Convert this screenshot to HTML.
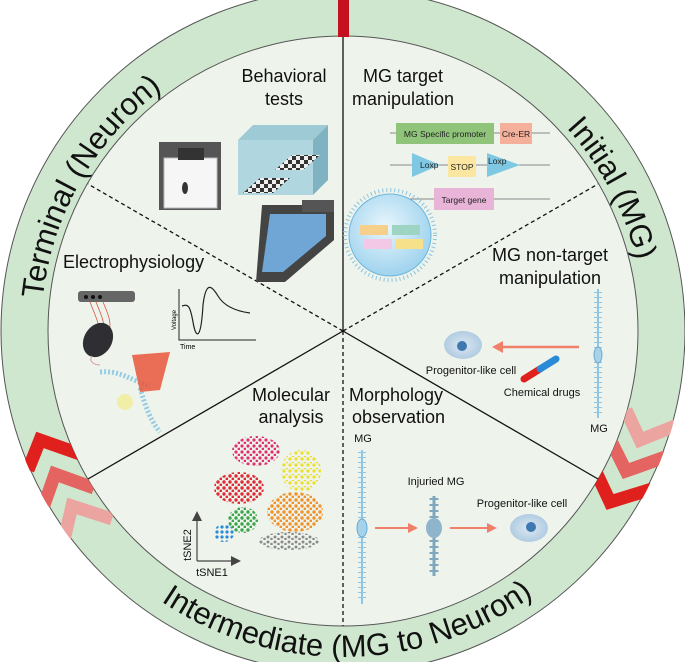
<!DOCTYPE html>
<html><head><meta charset="utf-8"><style>
html,body{margin:0;padding:0;background:#fff;}
svg{display:block;font-family:"Liberation Sans",sans-serif;}
</style></head><body>
<svg width="685" height="662" viewBox="0 0 685 662" xmlns="http://www.w3.org/2000/svg">
<defs>
<clipPath id="ring"><path fill-rule="evenodd" d="M0 331 A343 343 0 1 0 686 331 A343 343 0 1 0 0 331Z M48 331 A295 295 0 1 1 638 331 A295 295 0 1 1 48 331Z"/></clipPath>
<path id="topArc" d="M41 331 A302 302 0 0 1 645 331"/>
<path id="botArc" d="M17 331 A326 326 0 0 0 669 331"/>
<pattern id="pk" width="6" height="6" patternUnits="userSpaceOnUse"><circle cx="2" cy="2" r="1.6" fill="#e0306f"/><circle cx="5" cy="5" r="1.4" fill="#e0306f"/></pattern>
<pattern id="yl" width="6" height="6" patternUnits="userSpaceOnUse"><circle cx="2" cy="3" r="1.6" fill="#ecdf2a"/><circle cx="5" cy="0" r="1.4" fill="#ecdf2a"/></pattern>
<pattern id="rd" width="6" height="6" patternUnits="userSpaceOnUse"><circle cx="2" cy="2" r="1.7" fill="#e02a35"/><circle cx="5" cy="5" r="1.5" fill="#e02a35"/></pattern>
<pattern id="or" width="6" height="6" patternUnits="userSpaceOnUse"><circle cx="2" cy="2" r="1.7" fill="#f0922a"/><circle cx="5" cy="5" r="1.5" fill="#f0922a"/></pattern>
<pattern id="gr" width="6" height="6" patternUnits="userSpaceOnUse"><circle cx="2" cy="2" r="1.7" fill="#3aa54a"/><circle cx="5" cy="5" r="1.5" fill="#3aa54a"/></pattern>
<pattern id="bl" width="5" height="5" patternUnits="userSpaceOnUse"><circle cx="2" cy="2" r="1.6" fill="#2a8ad8"/></pattern>
<pattern id="gy" width="7" height="5" patternUnits="userSpaceOnUse"><circle cx="2" cy="2" r="1.5" fill="#8a8a8a"/><circle cx="5.5" cy="4" r="1.3" fill="#8a8a8a"/></pattern>
<pattern id="chk" width="8" height="8" patternUnits="userSpaceOnUse"><rect width="4" height="4" fill="#333"/><rect x="4" y="4" width="4" height="4" fill="#333"/><rect x="4" width="4" height="4" fill="#eee"/><rect y="4" width="4" height="4" fill="#eee"/></pattern>
<radialGradient id="cellg" cx="0.45" cy="0.4" r="0.6"><stop offset="0" stop-color="#e8f6fc"/><stop offset="1" stop-color="#9fd3ee"/></radialGradient>
<radialGradient id="pg" cx="0.5" cy="0.5" r="0.6"><stop offset="0" stop-color="#dbe8f3"/><stop offset="1" stop-color="#a9c6de"/></radialGradient>
</defs>
<circle cx="343" cy="331" r="342" fill="#d0e7cf" stroke="#555" stroke-width="1"/>
<circle cx="343" cy="331" r="295" fill="#eef4ec" stroke="#555" stroke-width="1"/>
<rect x="338" y="0" width="11" height="37" fill="#c5111f"/>
<g clip-path="url(#ring)" fill="none" stroke-width="13" stroke-linejoin="miter">
<polyline points="28,470 40,440 80,454" stroke="#e0201c"/>
<polyline points="44,505 55,474 94,488" stroke="#e36460"/>
<polyline points="64,540 72,506 112,519" stroke="#eba4a0"/>
<polyline points="626,410 640,440 680,424" stroke="#eba4a0"/>
<polyline points="611,441 626,471 668,456" stroke="#e36460"/>
<polyline points="596,472 610,502 652,489" stroke="#e0201c"/>
</g>
<g font-size="31" fill="#111">
<text text-anchor="middle"><textPath href="#topArc" startOffset="16.5%">Terminal (Neuron)</textPath></text>
<text text-anchor="middle"><textPath href="#topArc" startOffset="84.5%">Initial (MG)</textPath></text>
<text text-anchor="middle"><textPath href="#botArc" startOffset="50.5%">Intermediate (MG to Neuron)</textPath></text>
</g>
<g stroke="#111" stroke-width="1.3">
<line x1="343" y1="331" x2="343" y2="37"/>
<line x1="343" y1="331" x2="88" y2="479"/>
<line x1="343" y1="331" x2="598" y2="479"/>
<g stroke-dasharray="4,3">
<line x1="343" y1="331" x2="88" y2="184"/>
<line x1="343" y1="331" x2="598" y2="184"/>
<line x1="343" y1="331" x2="343" y2="626"/>
</g>
</g>
<g font-size="18" fill="#111" text-anchor="middle">
<text x="284" y="82">Behavioral</text><text x="284" y="105">tests</text>
<text x="403" y="82">MG target</text><text x="403" y="105">manipulation</text>
<text x="550" y="261">MG non-target</text><text x="550" y="284">manipulation</text>
<text x="291" y="401">Molecular</text><text x="291" y="423">analysis</text>
<text x="63" y="268" text-anchor="start">Electrophysiology</text>
<text x="349" y="401" text-anchor="start">Morphology</text>
<text x="352" y="423" text-anchor="start">observation</text>
</g>
<rect x="159" y="142" width="62" height="68" fill="#555"/>
<rect x="164" y="158" width="53" height="50" fill="#f6f6f6" stroke="#bbb"/>
<rect x="178" y="148" width="26" height="12" fill="#333"/>
<ellipse cx="185" cy="188" rx="3" ry="6" fill="#333"/>
<polygon points="238,140 253,125 328,125 313,140" fill="#9ecad6"/>
<polygon points="313,140 328,125 328,180 313,195" fill="#7fb3c2"/>
<rect x="238" y="140" width="75" height="55" fill="#a8d3df" opacity="0.9"/>
<polygon points="243,193 260,178 290,178 273,193" fill="url(#chk)"/>
<polygon points="275,170 292,155 320,155 303,170" fill="url(#chk)"/>
<polygon points="262,205 334,205 334,240 285,282 256,282" fill="#444"/>
<polygon points="270,214 326,214 326,236 283,272 262,272" fill="#6fa6d6"/>
<rect x="302" y="200" width="32" height="12" fill="#555"/>
<rect x="78" y="291" width="57" height="11" rx="3" fill="#666"/>
<circle cx="86" cy="297" r="2" fill="#111"/><circle cx="93" cy="297" r="2" fill="#111"/><circle cx="100" cy="297" r="2" fill="#111"/>
<path d="M90 302 C95 315 100 325 100 335 M96 302 C100 312 105 322 104 332 M103 302 C110 318 112 325 108 335" stroke="#d54" fill="none" stroke-width="0.8"/>
<ellipse cx="98" cy="340" rx="14" ry="18" fill="#2e2e33" transform="rotate(30 98 340)"/>
<path d="M92 356 C88 362 95 365 100 365" stroke="#d9a" fill="none"/>
<path d="M179 289 V340 H256" stroke="#222" fill="none" stroke-width="1"/>
<path d="M182 306 C188 304 190 305 193 322 C196 340 201 340 203 305 C206 280 212 286 218 296 C224 306 235 311 250 313" stroke="#222" fill="none" stroke-width="1.2"/>
<text x="176" y="330" font-size="6" transform="rotate(-90 176 330)">Voltage</text>
<text x="180" y="349" font-size="7">Time</text>
<path d="M100 372 C120 370 130 380 150 386" stroke="#5ab0e0" stroke-dasharray="2,2" fill="none" stroke-width="5" opacity="0.6"/>
<path d="M140 388 C145 405 150 420 160 432" stroke="#5ab0e0" stroke-dasharray="2,2" fill="none" stroke-width="5" opacity="0.6"/>
<polygon points="132,355 170,352 160,390 140,392" fill="#e8563b" opacity="0.85"/>
<circle cx="125" cy="402" r="8" fill="#f3ea7a" opacity="0.6"/>
<g stroke="#666" stroke-width="0.8">
<line x1="390" y1="133" x2="550" y2="133"/>
<line x1="390" y1="165" x2="550" y2="165"/>
<line x1="407" y1="199" x2="550" y2="199"/>
</g>
<rect x="396" y="123" width="98" height="21" fill="#8fc47a"/>
<rect x="500" y="123" width="32" height="21" fill="#f4b09a"/>
<polygon points="412,153 440,165 412,177" fill="#7ec8e3"/>
<polygon points="487,153 520,165 487,177" fill="#7ec8e3"/>
<rect x="448" y="156" width="28" height="21" fill="#fbe7a1"/>
<rect x="434" y="188" width="60" height="22" fill="#e8b4d8"/>
<g font-size="8.5" fill="#222" text-anchor="middle">
<text x="445" y="137">MG Specific promoter</text>
<text x="516" y="137">Cre-ER</text>
<text x="420" y="168" text-anchor="start">Loxp</text>
<text x="462" y="170">STOP</text>
<text x="488" y="164" text-anchor="start">Loxp</text>
<text x="464" y="203">Target gene</text>
</g>
<circle cx="390" cy="235" r="45" fill="none" stroke="#8cc3df" stroke-width="4" stroke-dasharray="1,3"/>
<circle cx="390" cy="235" r="41" fill="url(#cellg)" stroke="#6cb6e0" stroke-width="1"/>
<rect x="360" y="225" width="28" height="10" fill="#f6d08a"/>
<rect x="392" y="225" width="28" height="10" fill="#9ed4c4"/>
<rect x="364" y="239" width="28" height="10" fill="#f2c8e6"/>
<rect x="395" y="239" width="28" height="10" fill="#f6e08a"/>
<line x1="598" y1="289" x2="598" y2="418" stroke="#8ec6e6" stroke-width="2"/>
<line x1="598" y1="292" x2="598" y2="416" stroke="#8ec6e6" stroke-width="8" stroke-dasharray="1,4"/>
<ellipse cx="598" cy="355" rx="4" ry="8" fill="#a6d2ea" stroke="#6aa9cf"/>
<line x1="579" y1="347" x2="500" y2="347" stroke="#f0806a" stroke-width="2.5"/>
<polygon points="492,347 503,341 503,353" fill="#f0806a"/>
<ellipse cx="463" cy="345" rx="19" ry="14" fill="url(#pg)"/>
<circle cx="462" cy="346" r="5" fill="#3d78b0"/>
<line x1="524" y1="379" x2="540" y2="369" stroke="#e0201c" stroke-width="7" stroke-linecap="round"/>
<line x1="540" y1="369" x2="556" y2="359" stroke="#2a8ad8" stroke-width="7" stroke-linecap="round"/>
<g font-size="11" fill="#111" text-anchor="middle">
<text x="471" y="374">Progenitor-like cell</text>
<text x="542" y="396">Chemical drugs</text>
<text x="599" y="432">MG</text>
<text x="363" y="442">MG</text>
<text x="436" y="485">Injuried MG</text>
<text x="522" y="507">Progenitor-like cell</text>
<text x="212" y="576">tSNE1</text>
<text x="191" y="545" transform="rotate(-90 191 545)">tSNE2</text>
</g>
<line x1="362" y1="450" x2="362" y2="604" stroke="#8ec6e6" stroke-width="2"/>
<line x1="362" y1="452" x2="362" y2="602" stroke="#8ec6e6" stroke-width="8" stroke-dasharray="1,4"/>
<ellipse cx="362" cy="528" rx="5" ry="9" fill="#a6d2ea" stroke="#6aa9cf"/>
<line x1="375" y1="528" x2="410" y2="528" stroke="#f0806a" stroke-width="2"/>
<polygon points="418,528 408,523 408,533" fill="#f0806a"/>
<line x1="434" y1="496" x2="434" y2="576" stroke="#7fa7be" stroke-width="3"/>
<line x1="434" y1="498" x2="434" y2="574" stroke="#7fa7be" stroke-width="9" stroke-dasharray="2,4"/>
<ellipse cx="434" cy="528" rx="8" ry="10" fill="#8fb4cc"/>
<line x1="450" y1="528" x2="489" y2="528" stroke="#f0806a" stroke-width="2"/>
<polygon points="497,528 487,523 487,533" fill="#f0806a"/>
<ellipse cx="529" cy="528" rx="19" ry="14" fill="url(#pg)"/>
<circle cx="531" cy="527" r="5" fill="#3d78b0"/>
<ellipse cx="256" cy="451" rx="24" ry="15" fill="url(#pk)"/>
<ellipse cx="301" cy="471" rx="20" ry="21" fill="url(#yl)"/>
<ellipse cx="239" cy="488" rx="25" ry="16" fill="url(#rd)"/>
<ellipse cx="295" cy="512" rx="28" ry="20" fill="url(#or)"/>
<ellipse cx="243" cy="520" rx="15" ry="13" fill="url(#gr)"/>
<ellipse cx="224" cy="533" rx="10" ry="9" fill="url(#bl)"/>
<ellipse cx="289" cy="541" rx="30" ry="9" fill="url(#gy)"/>
<path d="M197 561 V518 M197 561 H234" stroke="#444" stroke-width="1.2" fill="none"/>
<polygon points="197,511 192,521 202,521" fill="#444"/>
<polygon points="241,561 231,556 231,566" fill="#444"/>
</svg>
</body></html>
